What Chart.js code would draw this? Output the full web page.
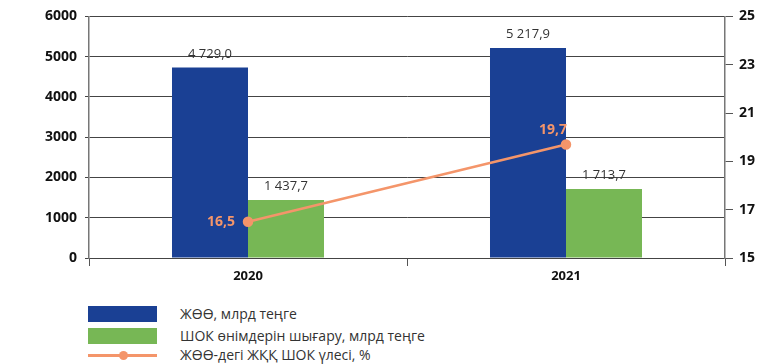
<!DOCTYPE html>
<html>
<head>
<meta charset="utf-8">
<script src="https://cdn.jsdelivr.net/npm/chart.js@4"></script>
<style>
  body { margin: 0; background: #fff; font-family: "Open Sans", sans-serif; }
  #wrap { position: relative; width: 778px; height: 364px; }
  #chartBox { position: absolute; left: 0; top: 0; width: 778px; height: 290px; }
  .leg { position: absolute; left: 88px; font-size: 14px; color: #333; }
  .leg .sw { position: absolute; left: 0; width: 69px; height: 16px; }
  .leg .txt { position: absolute; left: 92px; white-space: nowrap; line-height: 16px; }
</style>
</head>
<body>
<div id="wrap">
  <div id="chartBox"><canvas id="myChart"></canvas></div>
  <div class="leg" style="top:306px"><div class="sw" style="background:#1A4094"></div><div class="txt">ЖӨӨ, млрд теңге</div></div>
  <div class="leg" style="top:328px"><div class="sw" style="background:#77B755"></div><div class="txt">ШОК өнімдерін шығару, млрд теңге</div></div>
  <div class="leg" style="top:347px">
    <div class="sw" style="top:7px;height:3px;background:#F4956A"></div>
    <div class="sw" style="top:4px;left:31px;width:9px;height:9px;border-radius:50%;background:#F4956A"></div>
    <div class="txt">ЖӨӨ-дегі ЖҚҚ ШОК үлесі, %</div>
  </div>
</div>
<script>
// Data
var years = ['2020', '2021'];
var gdp = [4729.0, 5217.9];
var smeOutput = [1437.7, 1713.7];
var smeShare = [16.5, 19.7];
var leftTicks = [0, 1000, 2000, 3000, 4000, 5000, 6000];
var rightTicks = [15, 17, 19, 21, 23, 25];

// Format number like "4 729,0"
function fmt(v) {
    var parts = v.toFixed(1).split('.');
    return parts[0].replace(/\B(?=(\d{3})+(?!\d))/g, ' ') + ',' + parts[1];
}

// Draws value labels above bars and beside line points
var valueLabels = {
    id: 'valueLabels',
    afterDatasetsDraw: function (chart) {
        var ctx = chart.ctx;
        ctx.save();
        [0, 1].forEach(function (di) {
            var meta = chart.getDatasetMeta(di);
            var ds = chart.data.datasets[di];
            ctx.font = '13px "Open Sans"';
            ctx.fillStyle = '#333';
            ctx.textAlign = 'center';
            ctx.textBaseline = 'bottom';
            meta.data.forEach(function (bar, i) {
                ctx.fillText(fmt(ds.data[i]), bar.x, bar.y - 7);
            });
        });
        var lm = chart.getDatasetMeta(2);
        ctx.font = 'bold 14px "Open Sans"';
        ctx.fillStyle = '#F4956A';
        ctx.textAlign = 'right';
        ctx.textBaseline = 'middle';
        lm.data.forEach(function (pt, i) {
            var txt = smeShare[i].toFixed(1).replace('.', ',');
            if (i === 0) ctx.fillText(txt, pt.x - 13, pt.y);
            else ctx.fillText(txt, pt.x + 1, pt.y - 14);
        });
        ctx.restore();
    }
};

var ctx = document.getElementById('myChart').getContext('2d');
var myChart = new Chart(ctx, {
    type: 'bar',
    data: {
        labels: years,
        datasets: [{
            label: 'ЖӨӨ, млрд теңге',
            data: gdp,
            backgroundColor: '#1A4094',
            yAxisID: 'y',
            order: 2
        }, {
            label: 'ШОК өнімдерін шығару, млрд теңге',
            data: smeOutput,
            backgroundColor: '#77B755',
            yAxisID: 'y',
            order: 2
        }, {
            type: 'line',
            label: 'ЖӨӨ-дегі ЖҚҚ ШОК үлесі, %',
            data: smeShare,
            borderColor: '#F4956A',
            backgroundColor: '#F4956A',
            borderWidth: 2.5,
            pointRadius: 4,
            yAxisID: 'y1',
            order: 1
        }]
    },
    options: {
        responsive: true,
        maintainAspectRatio: false,
        animation: false,
        layout: { padding: { top: 15, bottom: 0 } },
        datasets: { bar: { barPercentage: 1, categoryPercentage: 0.478 } },
        plugins: { legend: { display: false }, tooltip: { enabled: false } },
        scales: {
            x: {
                offset: true,
                grid: { drawOnChartArea: false, offset: true, color: '#555', tickLength: 8 },
                border: { display: false },
                ticks: { color: '#111', font: { family: 'Open Sans', size: 13, weight: 'bold' }, padding: 2 },
                afterFit: function (s) { s.height = 32; }
            },
            y: {
                position: 'left',
                min: 0, max: 6000,
                afterBuildTicks: function (s) { s.ticks = leftTicks.map(function (v) { return { value: v }; }); },
                grid: { color: '#444', lineWidth: 1, tickLength: 4 },
                border: { color: '#777', width: 1.5 },
                ticks: {
                    color: '#111', font: { family: 'Open Sans', size: 14, weight: 'bold' }, padding: 8,
                    callback: function (v) { return String(v); }
                },
                afterFit: function (s) { s.width = 89; }
            },
            y1: {
                position: 'right',
                min: 15, max: 25,
                afterBuildTicks: function (s) { s.ticks = rightTicks.map(function (v) { return { value: v }; }); },
                grid: { drawOnChartArea: false, color: '#555', tickLength: 8 },
                border: { color: '#777', width: 1.5 },
                ticks: {
                    color: '#111', font: { family: 'Open Sans', size: 14, weight: 'bold' }, padding: 6,
                    callback: function (v) { return String(v); }
                },
                afterFit: function (s) { s.width = 53; }
            }
        }
    },
    plugins: [valueLabels]
});
</script>
</body>
</html>
